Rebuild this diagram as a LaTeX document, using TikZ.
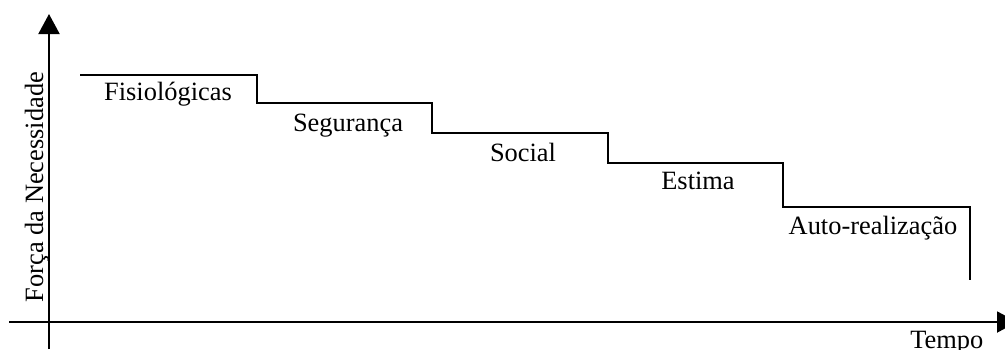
\documentclass[tikz,border=0pt]{standalone}
\usepackage{fontspec}
\setmainfont{Liberation Serif}
\usetikzlibrary{arrows.meta}
\begin{document}
\begin{tikzpicture}[x=0.5pt,y=-0.5pt,
  axis/.style={line width=1pt,-{Triangle[width=10.5pt,length=10pt]}},
  stair/.style={line width=1pt},
  lbl/.style={font=\fontsize{13.2}{15}\selectfont,inner sep=0pt,anchor=base}]
\useasboundingbox (0,0) rectangle (1005,349);
% axes
\coordinate (ybot) at (49,349);
\coordinate (ytip) at (49,14);
\coordinate (xstart) at (9,322);
\coordinate (xtip) at (1017,322);
\draw[axis] (ybot) -- (ytip);
\draw[axis] (xstart) -- (xtip);
% staircase of needs
\coordinate (s0) at (80,75);
\coordinate (s1) at (257,75);
\coordinate (s2) at (257,103);
\coordinate (s3) at (432,103);
\coordinate (s4) at (432,133);
\coordinate (s5) at (608,133);
\coordinate (s6) at (608,163);
\coordinate (s7) at (783,163);
\coordinate (s8) at (783,207);
\coordinate (s9) at (970,207);
\coordinate (s10) at (970,280);
\draw[stair] (s0) -- (s1) -- (s2) -- (s3) -- (s4) -- (s5) -- (s6) -- (s7) -- (s8) -- (s9) -- (s10);
% level labels
\node[lbl] (fis) at (168,100) {Fisiológicas};
\node[lbl] (seg) at (348,131) {Segurança};
\node[lbl] (soc) at (523,161) {Social};
\node[lbl] (est) at (698,189) {Estima};
\node[lbl] (aut) at (873,234) {Auto-realização};
% axis labels
\node[lbl,anchor=base west] (tempo) at (910,348) {Tempo};
\node[lbl,rotate=90] (forca) at (43,187) {Força da Necessidade};
\end{tikzpicture}
\end{document}
